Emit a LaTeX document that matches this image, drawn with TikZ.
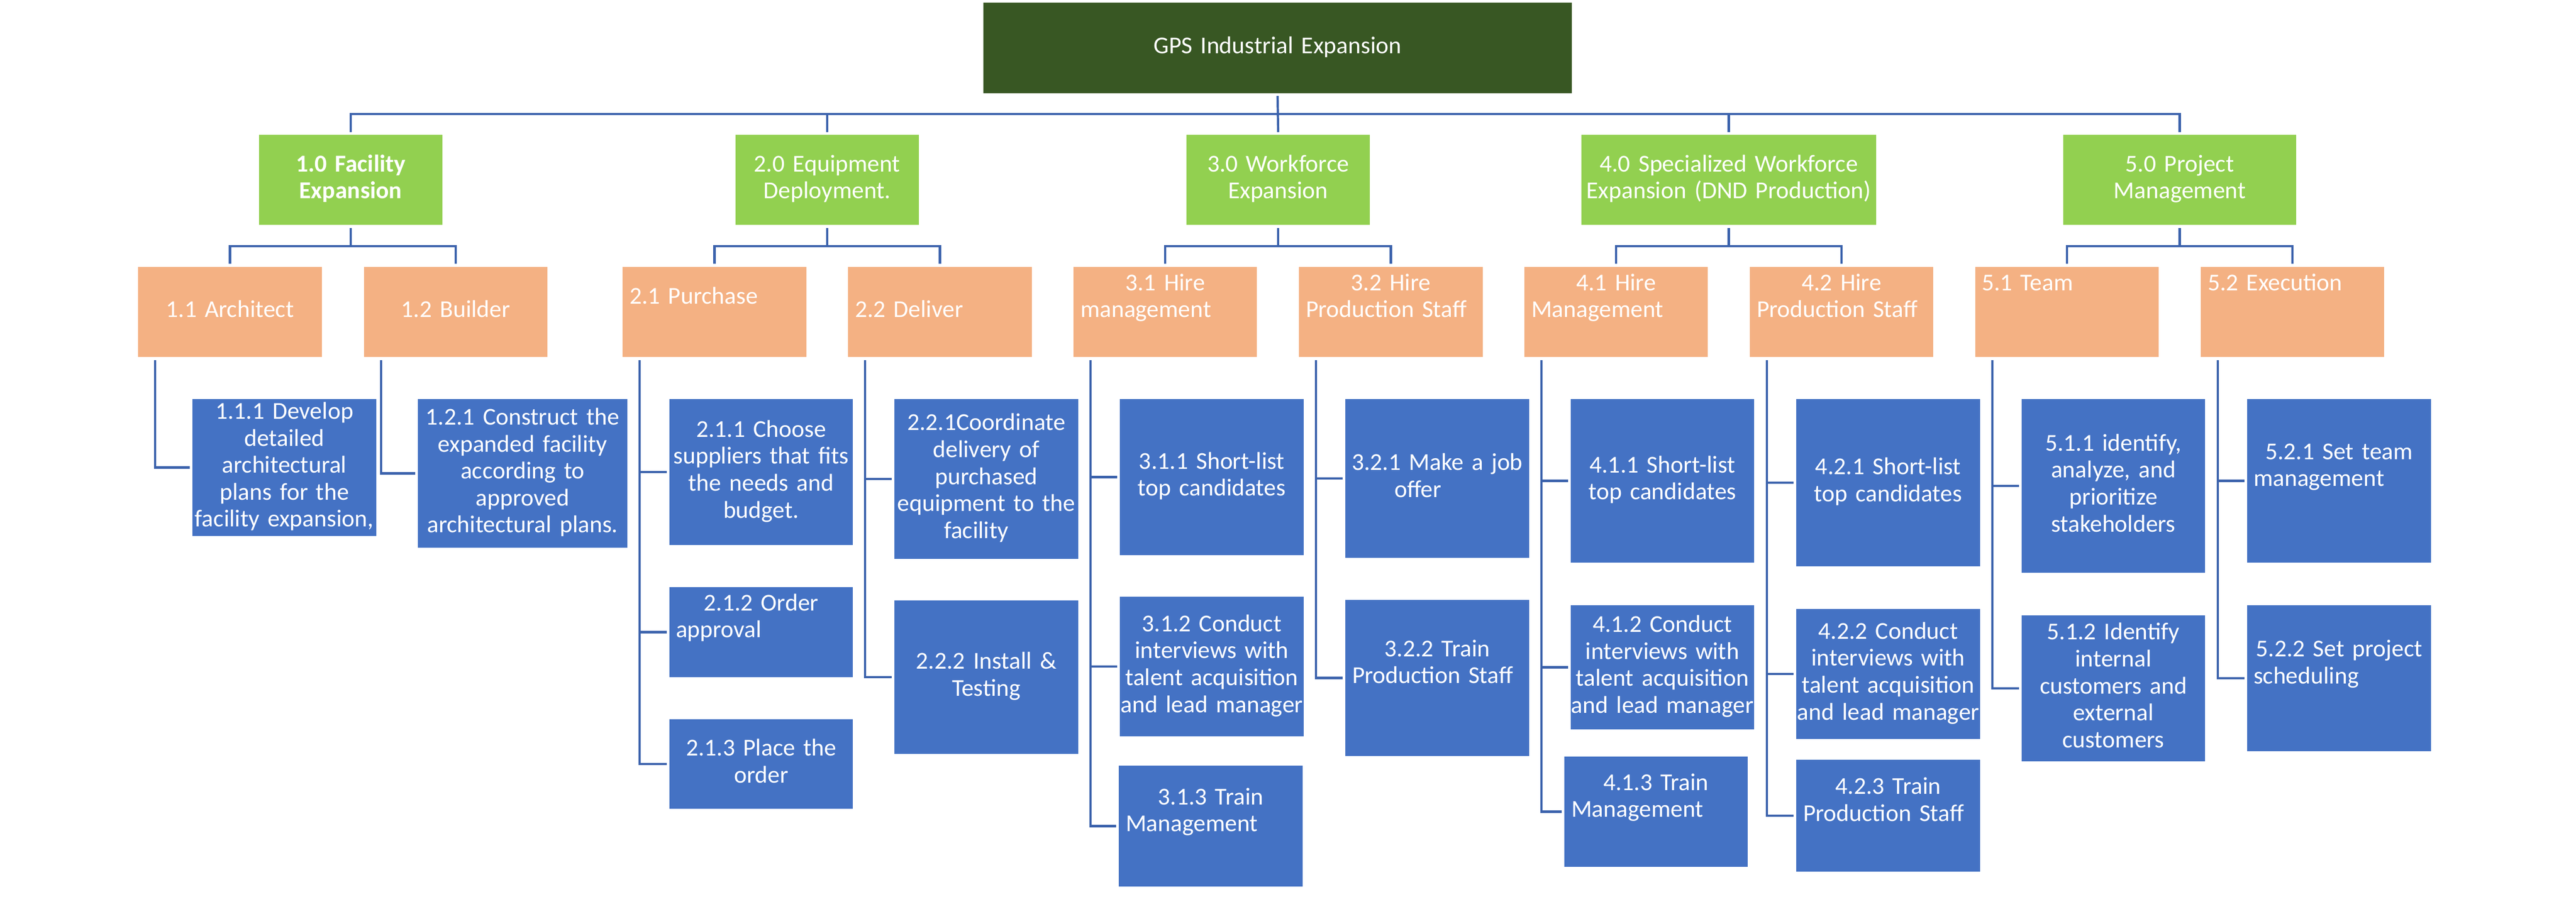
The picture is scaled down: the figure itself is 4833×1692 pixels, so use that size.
\documentclass[tikz,border=0pt]{standalone}
\usepackage{fontspec}
\setmainfont{Carlito}
\definecolor{rootgreen}{HTML}{385723}
\definecolor{lightgreen}{HTML}{92D050}
\definecolor{peach}{HTML}{F4B183}
\definecolor{accentblue}{HTML}{4472C4}
\definecolor{linkblue}{HTML}{3B62AC}
\newcommand\lft[2][13]{\makebox[\hsize][l]{\hspace*{#1pt}#2}}
\newcommand\bx[7]{%
  \pgfmathsetmacro\bw{#4-#2}\pgfmathsetmacro\bh{#5-#3}%
  \node[#6, minimum width=\bw pt, minimum height=\bh pt, text width=\bw pt] (#1) at ({(#2+#4)/2},{(#3+#5)/2}) {#7};}
\newcommand\fork[3]{%
  \draw[conn] ([yshift=-6pt]#1.south) -- ([yshift=-40pt]#1.south);
  \draw[conn] ([yshift=6pt]#2.north) |- ([yshift=-40pt]#1.south) -| ([yshift=6pt]#3.north);}
\newcommand\kids[2]{%
  \foreach \c in {#2}{\draw[conn] ([xshift=32pt,yshift=-6pt]#1.south west) |- ([xshift=-5pt]\c.west);}}
\tikzset{
  box/.style={draw=none, inner sep=0pt, align=center, text=white,
    font=\fontsize{45.5}{50.6}\selectfont,
    execute at begin node=\strut, execute at end node=\strut},
  rootbox/.style={box, fill=rootgreen},
  lvlone/.style={box, fill=lightgreen},
  lvltwo/.style={box, fill=peach},
  lvlthree/.style={box, fill=accentblue},
  conn/.style={draw=linkblue, line width=4.2pt},
}
\begin{document}
\begin{tikzpicture}[x=1pt,y=-1pt]
\useasboundingbox (0,0) rectangle (4833,1692);
\fill[white] (0,0) rectangle (4833,1692);
% root
\bx{root}{1845}{5}{2949}{175}{rootbox}{GPS Industrial Expansion}
% level 1
\bx{g10}{486}{253}{830}{422}{lvlone}{\bfseries 1.0 Facility\\\bfseries Expansion}
\bx{g20}{1380}{253}{1724}{422}{lvlone}{2.0 Equipment\\Deployment.}
\bx{g30}{2226}{253}{2570}{422}{lvlone}{3.0 Workforce\\Expansion}
\bx{g40}{2967}{253}{3520}{422}{lvlone}{4.0 Specialized Workforce\\Expansion (DND Production)}
\bx{g50}{3871}{253}{4308}{422}{lvlone}{5.0 Project\\Management}
% level 2
\bx{o11}{259}{501}{604}{670}{lvltwo}{1.1 Architect}
\bx{o12}{683}{501}{1027}{670}{lvltwo}{1.2 Builder}
\bx{o21}{1168}{501}{1513}{670}{lvltwo}{\lft{2.1 Purchase}\\\mbox{}}
\bx{o22}{1591}{501}{1936}{670}{lvltwo}{\lft{2.2 Deliver}}
\bx{o31}{2014}{501}{2358}{670}{lvltwo}{3.1 Hire\\\lft{management}\\\mbox{}}
\bx{o32}{2437}{501}{2782}{670}{lvltwo}{3.2 Hire\\\lft{Production Staff}\\\mbox{}}
\bx{o41}{2860}{501}{3204}{670}{lvltwo}{4.1 Hire\\\lft{Management}\\\mbox{}}
\bx{o42}{3283}{501}{3627}{670}{lvltwo}{4.2 Hire\\\lft{Production Staff}\\\mbox{}}
\bx{o51}{3706}{501}{4050}{670}{lvltwo}{\lft[12]{5.1 Team}\\\mbox{}\\\mbox{}}
\bx{o52}{4129}{501}{4473}{670}{lvltwo}{\lft[13]{5.2 Execution}\\\mbox{}\\\mbox{}}
% level 3
\bx{b111}{361}{749}{706}{1006}{lvlthree}{1.1.1 Develop\\detailed\\architectural\\plans for the\\facility expansion,}
\bx{b121}{784}{749}{1177}{1028}{lvlthree}{1.2.1 Construct the\\expanded facility\\according to\\approved\\architectural plans.}
\bx{b211}{1256}{749}{1600}{1023}{lvlthree}{2.1.1 Choose\\suppliers that fits\\the needs and\\budget.}
\bx{b212}{1256}{1102}{1600}{1271}{lvlthree}{2.1.2 Order\\\lft[12]{approval}\\\mbox{}}
\bx{b213}{1256}{1350}{1600}{1518}{lvlthree}{2.1.3 Place the\\order}
\bx{b221}{1678}{749}{2023}{1049}{lvlthree}{2.2.1Coordinate\\delivery of\\purchased\\equipment to the\\\lft[93]{facility}}
\bx{b222}{1678}{1127}{2023}{1415}{lvlthree}{2.2.2 Install \&\\Testing}
\bx{b311}{2101}{749}{2446}{1042}{lvlthree}{3.1.1 Short-list\\top candidates}
\bx{b312}{2101}{1120}{2446}{1382}{lvlthree}{3.1.2 Conduct\\interviews with\\talent acquisition\\and lead manager}
\bx{b313}{2099}{1437}{2444}{1664}{lvlthree}{3.1.3 Train\\\lft{Management}\\\mbox{}}
\bx{b321}{2524}{749}{2869}{1047}{lvlthree}{3.2.1 Make a job\\\lft[92]{offer}}
\bx{b322}{2524}{1126}{2869}{1419}{lvlthree}{3.2.2 Train\\\lft{Production Staff}\\\mbox{}}
\bx{b411}{2947}{749}{3291}{1056}{lvlthree}{4.1.1 Short-list\\top candidates}
\bx{b412}{2947}{1136}{3291}{1369}{lvlthree}{4.1.2 Conduct\\interviews with\\talent acquisition\\and lead manager}
\bx{b413}{2935}{1420}{3279}{1627}{lvlthree}{4.1.3 Train\\\lft{Management}\\\mbox{}}
\bx{b421}{3370}{749}{3715}{1063}{lvlthree}{4.2.1 Short-list\\top candidates}
\bx{b422}{3370}{1143}{3715}{1387}{lvlthree}{4.2.2 Conduct\\interviews with\\talent acquisition\\and lead manager}
\bx{b423}{3370}{1426}{3715}{1636}{lvlthree}{4.2.3 Train\\\lft{Production Staff}\\\mbox{}}
\bx{b511}{3793}{749}{4137}{1075}{lvlthree}{5.1.1 identify,\\analyze, and\\prioritize\\stakeholders}
\bx{b512}{3793}{1155}{4137}{1429}{lvlthree}{5.1.2 Identify\\internal\\customers and\\external\\customers}
\bx{b521}{4216}{749}{4561}{1056}{lvlthree}{5.2.1 Set team\\\lft[12]{management}\\\mbox{}}
\bx{b522}{4216}{1136}{4561}{1410}{lvlthree}{5.2.2 Set project\\\lft[12]{scheduling}\\\mbox{}}
% connectors: root to level 1
\coordinate (topbus) at (0,214);
\draw[conn] ([yshift=-5pt]root.south) -- ([yshift=5pt]g30.north);
\draw[conn] ([yshift=5pt]g10.north) -- (g10.north |- topbus) -- (g50.north |- topbus) -- ([yshift=5pt]g50.north);
\foreach \g in {g20,g40} \draw[conn] ([yshift=5pt]\g.north) -- (\g.north |- topbus);
% level 1 to level 2
\fork{g10}{o11}{o12}
\fork{g20}{o21}{o22}
\fork{g30}{o31}{o32}
\fork{g40}{o41}{o42}
\fork{g50}{o51}{o52}
% level 2 to level 3
\kids{o11}{b111}
\kids{o12}{b121}
\kids{o21}{b211,b212,b213}
\kids{o22}{b221,b222}
\kids{o31}{b311,b312,b313}
\kids{o32}{b321,b322}
\kids{o41}{b411,b412,b413}
\kids{o42}{b421,b422,b423}
\kids{o51}{b511,b512}
\kids{o52}{b521,b522}
\end{tikzpicture}
\end{document}
